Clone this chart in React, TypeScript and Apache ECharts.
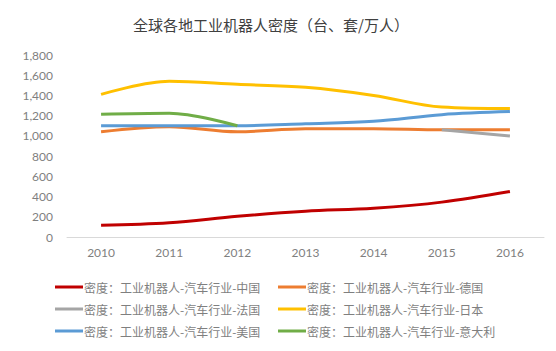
import React, { useEffect, useRef } from "react";
import * as echarts from "echarts";

const years = ["2010", "2011", "2012", "2013", "2014", "2015", "2016"];
const china = [115, 140, 205, 255, 285, 345, 450];
const germany = [1040, 1090, 1040, 1070, 1070, 1060, 1060];
const france = [null, null, null, null, null, 1060, 1000];
const japan = [1410, 1540, 1510, 1480, 1400, 1285, 1270];
const usa = [1100, 1100, 1100, 1120, 1145, 1210, 1240];
const italy = [1215, 1225, 1100, null, null, null, null];

const names = [
  "密度：工业机器人-汽车行业-中国",
  "密度：工业机器人-汽车行业-德国",
  "密度：工业机器人-汽车行业-法国",
  "密度：工业机器人-汽车行业-日本",
  "密度：工业机器人-汽车行业-美国",
  "密度：工业机器人-汽车行业-意大利",
];
const colors = ["#C00000", "#ED7D31", "#A5A5A5", "#FFC000", "#5B9BD5", "#70AD47"];
const seriesData = [china, germany, france, japan, usa, italy];

export default function App() {
  const ref = useRef<HTMLDivElement>(null);
  useEffect(() => {
    document.body.style.margin = "0";
    const chart = echarts.init(ref.current!, null, { renderer: "svg" });
    const legendCommon = {
      orient: "vertical" as const,
      top: 276,
      itemWidth: 28,
      itemHeight: 3,
      itemGap: 10,
      icon: "rect",
      textStyle: {
        color: "#7F7F7F",
        fontSize: 12,
        fontFamily: "Noto Sans CJK SC",
        padding: [0, 0, 0, -4],
      },
    };
    chart.setOption({
      animation: false,
      color: colors,
      title: {
        text: "全球各地工业机器人密度（台、套/万人）",
        left: 266,
        textAlign: "center",
        top: 12,
        textStyle: {
          color: "#404040",
          fontSize: 15,
          fontWeight: "normal",
          fontFamily: "Noto Sans CJK SC",
        },
      },
      legend: [
        { ...legendCommon, left: 50, data: [names[0], names[2], names[4]] },
        { ...legendCommon, left: 273, data: [names[1], names[3], names[5]] },
      ],
      grid: { left: 67, right: 12, top: 55, bottom: 114, containLabel: false },
      xAxis: {
        type: "category",
        data: years,
        boundaryGap: true,
        axisLine: { lineStyle: { color: "#D9D9D9" } },
        axisTick: { lineStyle: { color: "#D9D9D9" }, length: 4 },
        axisLabel: { color: "#7F7F7F", fontSize: 12, fontFamily: "Lato", margin: 9 },
      },
      yAxis: {
        type: "value",
        min: 0,
        max: 1800,
        interval: 200,
        axisLine: { show: false },
        axisTick: { show: false },
        splitLine: { show: false },
        axisLabel: {
          color: "#7F7F7F",
          fontSize: 12,
          fontFamily: "Lato",
          margin: 14,
          formatter: (v: number) => v.toLocaleString("en-US"),
        },
      },
      series: seriesData.map((d, i) => ({
        name: names[i],
        type: "line",
        data: d,
        smooth: 0.35,
        showSymbol: false,
        symbol: "none",
        connectNulls: false,
        lineStyle: { width: 3, color: colors[i] },
        itemStyle: { color: colors[i] },
      })),
    });
    return () => chart.dispose();
  }, []);
  return <div ref={ref} style={{ width: 556, height: 351 }} />;
}
